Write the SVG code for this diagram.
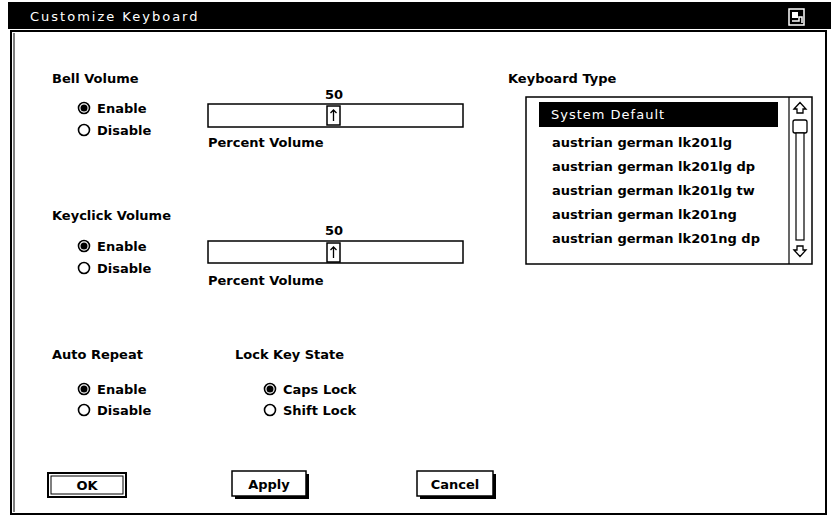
<svg xmlns="http://www.w3.org/2000/svg" width="831" height="517" viewBox="0 0 831 517">
<style>
.lbl{font-family:"DejaVu Sans",sans-serif;font-weight:bold;font-size:13px;fill:#000}
.ttl{font-family:"DejaVu Sans",sans-serif;font-size:13px;fill:#fff}
.ring{fill:#fff;stroke:#000;stroke-width:1.6}
.dot{fill:#000}
.box{fill:#fff;stroke:#000;stroke-width:1.5}
.btxt{font-family:"DejaVu Sans",sans-serif;font-weight:bold;font-size:13px;fill:#000;text-anchor:middle}
</style>
<rect width="831" height="517" fill="#fff"/>
<g id="titlebar">
<rect x="8" y="2" width="823" height="27" fill="#000"/>
<text class="ttl" x="30" y="21" letter-spacing="2">Customize Keyboard</text>
<rect x="789" y="9" width="15" height="16" fill="#000" stroke="#fff" stroke-width="1.5"/>
<rect x="792" y="12" width="6" height="6" fill="#fff"/>
<path d="M792 21 H799 V17 H802 V23" fill="none" stroke="#fff" stroke-width="1.5"/>
</g>
<g id="window">
<rect x="11" y="31" width="815" height="483" fill="none" stroke="#000" stroke-width="2"/>
<line x1="14" y1="33" x2="14" y2="512" stroke="#000" stroke-width="1"/>
</g>
<g id="bell-volume">
<text class="lbl" x="52" y="83">Bell Volume</text>
<circle class="ring" cx="84" cy="108" r="5.5"/><circle class="dot" cx="84" cy="108" r="3.5"/>
<text class="lbl" x="97" y="113">Enable</text>
<circle class="ring" cx="84" cy="130" r="5.5"/>
<text class="lbl" x="97" y="135">Disable</text>
<text class="btxt" x="334" y="99">50</text>
<rect class="box" x="208" y="104" width="255" height="23"/>
<rect x="327" y="106" width="13" height="19" fill="#fff" stroke="#000" stroke-width="1.5"/>
<path d="M333.5 121 V110 M330.5 113 L333.5 110 L336.5 113" fill="none" stroke="#000" stroke-width="1.3"/>
<text class="lbl" x="208" y="147">Percent Volume</text>
</g>
<g id="keyclick-volume">
<text class="lbl" x="52" y="220">Keyclick Volume</text>
<circle class="ring" cx="84" cy="246" r="5.5"/><circle class="dot" cx="84" cy="246" r="3.5"/>
<text class="lbl" x="97" y="251">Enable</text>
<circle class="ring" cx="84" cy="268" r="5.5"/>
<text class="lbl" x="97" y="273">Disable</text>
<text class="btxt" x="334" y="235">50</text>
<rect class="box" x="208" y="241" width="255" height="22"/>
<rect x="327" y="243" width="13" height="19" fill="#fff" stroke="#000" stroke-width="1.5"/>
<path d="M333.5 258 V247 M330.5 250 L333.5 247 L336.5 250" fill="none" stroke="#000" stroke-width="1.3"/>
<text class="lbl" x="208" y="285">Percent Volume</text>
</g>
<g id="auto-repeat">
<text class="lbl" x="52" y="359">Auto Repeat</text>
<circle class="ring" cx="84" cy="389" r="5.5"/><circle class="dot" cx="84" cy="389" r="3.5"/>
<text class="lbl" x="97" y="394">Enable</text>
<circle class="ring" cx="84" cy="410" r="5.5"/>
<text class="lbl" x="97" y="415">Disable</text>
</g>
<g id="lock-key-state">
<text class="lbl" x="235" y="359">Lock Key State</text>
<circle class="ring" cx="270" cy="389" r="5.5"/><circle class="dot" cx="270" cy="389" r="3.5"/>
<text class="lbl" x="283" y="394">Caps Lock</text>
<circle class="ring" cx="270" cy="410" r="5.5"/>
<text class="lbl" x="283" y="415">Shift Lock</text>
</g>
<g id="keyboard-type">
<text class="lbl" x="508" y="83">Keyboard Type</text>
<rect class="box" x="526" y="97" width="286" height="167"/>
<line x1="789" y1="97" x2="789" y2="264" stroke="#000" stroke-width="1.2"/>
<rect x="539" y="102" width="239" height="25" fill="#000"/>
<text class="ttl" x="551" y="119" letter-spacing="1">System Default</text>
<text class="lbl" x="552" y="147">austrian german lk201lg</text>
<text class="lbl" x="552" y="171">austrian german lk201lg dp</text>
<text class="lbl" x="552" y="195">austrian german lk201lg tw</text>
<text class="lbl" x="552" y="219">austrian german lk201ng</text>
<text class="lbl" x="552" y="243">austrian german lk201ng dp</text>
<path d="M794 109 L800 102.5 L806 109 H803 V113 H797 V109 Z" fill="#fff" stroke="#000" stroke-width="1.3"/>
<rect x="793" y="120" width="14" height="13" rx="2" fill="#fff" stroke="#000" stroke-width="1.3"/>
<rect x="796" y="133" width="8" height="107" fill="#fff" stroke="#000" stroke-width="1.2"/>
<path d="M794 250 L800 256.5 L806 250 H803 V246 H797 V250 Z" fill="#fff" stroke="#000" stroke-width="1.3"/>
</g>
<g id="btn-ok">
<rect x="48" y="473" width="78" height="24" fill="#fff" stroke="#000" stroke-width="2"/>
<rect x="51" y="476" width="72" height="18" fill="none" stroke="#000" stroke-width="1"/>
<text class="btxt" x="87" y="490">OK</text>
</g>
<g id="btn-apply">
<rect x="235" y="474" width="74" height="25" fill="#000"/>
<rect x="232" y="471" width="74" height="25" fill="#fff" stroke="#000" stroke-width="1.5"/>
<text class="btxt" x="269" y="489">Apply</text>
</g>
<g id="btn-cancel">
<rect x="420" y="474" width="76" height="25" fill="#000"/>
<rect x="417" y="471" width="76" height="25" fill="#fff" stroke="#000" stroke-width="1.5"/>
<text class="btxt" x="455" y="489">Cancel</text>
</g>
</svg>
